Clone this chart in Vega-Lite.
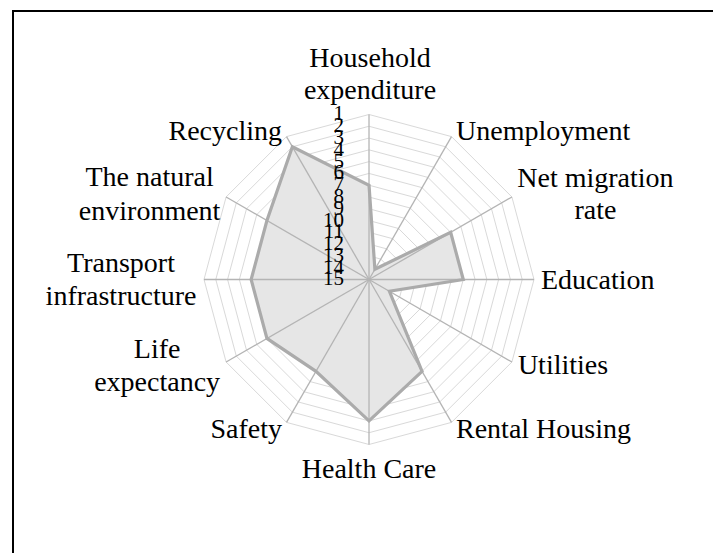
{
  "$schema": "https://vega.github.io/schema/vega-lite/v6.json",
  "width": 713,
  "height": 553,
  "autosize": {"type": "none"},
  "padding": 0,
  "background": "white",
  "view": {"stroke": null},
  "config": {"text": {"font": "Liberation Serif", "color": "#000000"}},
  "datasets": {
    "scores": [
      {"i": 0, "label": "Household\nexpenditure", "rank": 7},
      {"i": 1, "label": "Unemployment", "rank": 14},
      {"i": 2, "label": "Net migration\nrate", "rank": 7},
      {"i": 3, "label": "Education", "rank": 7},
      {"i": 4, "label": "Utilities", "rank": 13},
      {"i": 5, "label": "Rental Housing", "rank": 6},
      {"i": 6, "label": "Health Care", "rank": 3},
      {"i": 7, "label": "Safety", "rank": 6},
      {"i": 8, "label": "Life\nexpectancy", "rank": 5},
      {"i": 9, "label": "Transport\ninfrastructure", "rank": 5},
      {"i": 10, "label": "The natural\nenvironment", "rank": 5},
      {"i": 11, "label": "Recycling", "rank": 2}
    ],
    "levels": [
      {"level": 1, "spokes": [0,1,2,3,4,5,6,7,8,9,10,11]},
      {"level": 2, "spokes": [0,1,2,3,4,5,6,7,8,9,10,11]},
      {"level": 3, "spokes": [0,1,2,3,4,5,6,7,8,9,10,11]},
      {"level": 4, "spokes": [0,1,2,3,4,5,6,7,8,9,10,11]},
      {"level": 5, "spokes": [0,1,2,3,4,5,6,7,8,9,10,11]},
      {"level": 6, "spokes": [0,1,2,3,4,5,6,7,8,9,10,11]},
      {"level": 7, "spokes": [0,1,2,3,4,5,6,7,8,9,10,11]},
      {"level": 8, "spokes": [0,1,2,3,4,5,6,7,8,9,10,11]},
      {"level": 9, "spokes": [0,1,2,3,4,5,6,7,8,9,10,11]},
      {"level": 10, "spokes": [0,1,2,3,4,5,6,7,8,9,10,11]},
      {"level": 11, "spokes": [0,1,2,3,4,5,6,7,8,9,10,11]},
      {"level": 12, "spokes": [0,1,2,3,4,5,6,7,8,9,10,11]},
      {"level": 13, "spokes": [0,1,2,3,4,5,6,7,8,9,10,11]},
      {"level": 14, "spokes": [0,1,2,3,4,5,6,7,8,9,10,11]},
      {"level": 15, "spokes": [0,1,2,3,4,5,6,7,8,9,10,11]}
    ]
  },
  "layer": [
    {
      "data": {"name": "levels"},
      "transform": [
        {"filter": "datum.level < 15"},
        {"flatten": ["spokes"], "as": ["s"]},
        {"calculate": "(15 - datum.level) / 14", "as": "r"},
        {"calculate": "datum.r * sin(datum.s * PI / 6)", "as": "gx"},
        {"calculate": "datum.r * cos(datum.s * PI / 6)", "as": "gy"}
      ],
      "mark": {"type": "line", "interpolate": "linear-closed", "stroke": "#d9d9d9", "strokeWidth": 1},
      "encoding": {
        "x": {"field": "gx", "type": "quantitative", "axis": null, "scale": {"domain": [-2.2364, 2.0848], "nice": false, "zero": false}},
        "y": {"field": "gy", "type": "quantitative", "axis": null, "scale": {"domain": [-1.6576, 1.6939], "nice": false, "zero": false}},
        "detail": {"field": "level", "type": "nominal"},
        "order": {"field": "s", "type": "quantitative"}
      }
    },
    {
      "data": {"name": "scores"},
      "transform": [
        {"calculate": "(15 - datum.rank) / 14", "as": "r"},
        {"calculate": "datum.r * sin(datum.i * PI / 6)", "as": "px"},
        {"calculate": "datum.r * cos(datum.i * PI / 6)", "as": "py"}
      ],
      "mark": {"type": "line", "interpolate": "linear-closed", "fill": "#e6e6e6", "strokeOpacity": 0},
      "encoding": {
        "x": {"field": "px", "type": "quantitative", "axis": null, "scale": {"domain": [-2.2364, 2.0848], "nice": false, "zero": false}},
        "y": {"field": "py", "type": "quantitative", "axis": null, "scale": {"domain": [-1.6576, 1.6939], "nice": false, "zero": false}},
        "order": {"field": "i", "type": "quantitative"}
      }
    },
    {
      "data": {"name": "scores"},
      "transform": [
        {"calculate": "sin(datum.i * PI / 6)", "as": "vx"},
        {"calculate": "cos(datum.i * PI / 6)", "as": "vy"},
        {"calculate": "0", "as": "ox"}
      ],
      "mark": {"type": "rule", "stroke": "#b4b4b4", "strokeWidth": 1.3},
      "encoding": {
        "x": {"field": "vx", "type": "quantitative", "axis": null, "scale": {"domain": [-2.2364, 2.0848], "nice": false, "zero": false}},
        "y": {"field": "vy", "type": "quantitative", "axis": null, "scale": {"domain": [-1.6576, 1.6939], "nice": false, "zero": false}},
        "x2": {"field": "ox"},
        "y2": {"field": "ox"}
      }
    },
    {
      "data": {"name": "scores"},
      "transform": [
        {"calculate": "(15 - datum.rank) / 14", "as": "r"},
        {"calculate": "datum.r * sin(datum.i * PI / 6)", "as": "px"},
        {"calculate": "datum.r * cos(datum.i * PI / 6)", "as": "py"}
      ],
      "mark": {"type": "line", "interpolate": "linear-closed", "stroke": "#ababab", "strokeWidth": 3.2, "strokeJoin": "miter"},
      "encoding": {
        "x": {"field": "px", "type": "quantitative", "axis": null, "scale": {"domain": [-2.2364, 2.0848], "nice": false, "zero": false}},
        "y": {"field": "py", "type": "quantitative", "axis": null, "scale": {"domain": [-1.6576, 1.6939], "nice": false, "zero": false}},
        "order": {"field": "i", "type": "quantitative"}
      }
    },
    {
      "data": {"name": "levels"},
      "transform": [
        {"calculate": "(15 - datum.level) / 14", "as": "r"},
        {"calculate": "0", "as": "ox"}
      ],
      "mark": {"type": "text", "align": "right", "baseline": "middle", "dx": -25, "fontSize": 21},
      "encoding": {
        "x": {"field": "ox", "type": "quantitative", "axis": null, "scale": {"domain": [-2.2364, 2.0848], "nice": false, "zero": false}},
        "y": {"field": "r", "type": "quantitative", "axis": null, "scale": {"domain": [-1.6576, 1.6939], "nice": false, "zero": false}},
        "text": {"field": "level", "type": "nominal"}
      }
    },
    {
      "data": {"name": "scores"},
      "transform": [
        {"calculate": "sin(datum.i * PI / 6)", "as": "vx"},
        {"calculate": "cos(datum.i * PI / 6)", "as": "vy"}
      ],
      "layer": [
        {"transform": [{"filter": "datum.i === 0"}], "mark": {"type": "text", "align": "center", "baseline": "middle", "lineBreak": "\n", "fontSize": 28, "lineHeight": 32, "dx": 1, "dy": -55}},
        {"transform": [{"filter": "datum.i === 1"}], "mark": {"type": "text", "align": "left", "baseline": "middle", "lineBreak": "\n", "fontSize": 28, "lineHeight": 32, "dx": 4.5, "dy": -5}},
        {"transform": [{"filter": "datum.i === 2"}], "mark": {"type": "text", "align": "center", "baseline": "middle", "lineBreak": "\n", "fontSize": 28, "lineHeight": 32, "dx": 83.5, "dy": -18}},
        {"transform": [{"filter": "datum.i === 3"}], "mark": {"type": "text", "align": "left", "baseline": "middle", "lineBreak": "\n", "fontSize": 28, "lineHeight": 32, "dx": 7, "dy": 1.5}},
        {"transform": [{"filter": "datum.i === 4"}], "mark": {"type": "text", "align": "left", "baseline": "middle", "lineBreak": "\n", "fontSize": 28, "lineHeight": 32, "dx": 6, "dy": 4}},
        {"transform": [{"filter": "datum.i === 5"}], "mark": {"type": "text", "align": "left", "baseline": "middle", "lineBreak": "\n", "fontSize": 28, "lineHeight": 32, "dx": 4.5, "dy": 7.5}},
        {"transform": [{"filter": "datum.i === 6"}], "mark": {"type": "text", "align": "center", "baseline": "middle", "lineBreak": "\n", "fontSize": 28, "lineHeight": 32, "dx": 0, "dy": 26}},
        {"transform": [{"filter": "datum.i === 7"}], "mark": {"type": "text", "align": "right", "baseline": "middle", "lineBreak": "\n", "fontSize": 28, "lineHeight": 32, "dx": -4.5, "dy": 7.5}},
        {"transform": [{"filter": "datum.i === 8"}], "mark": {"type": "text", "align": "center", "baseline": "middle", "lineBreak": "\n", "fontSize": 28, "lineHeight": 33, "dx": -69, "dy": -12}},
        {"transform": [{"filter": "datum.i === 9"}], "mark": {"type": "text", "align": "center", "baseline": "middle", "lineBreak": "\n", "fontSize": 28, "lineHeight": 33, "dx": -83, "dy": -15}},
        {"transform": [{"filter": "datum.i === 10"}], "mark": {"type": "text", "align": "center", "baseline": "middle", "lineBreak": "\n", "fontSize": 28, "lineHeight": 34, "dx": -76.5, "dy": -19}},
        {"transform": [{"filter": "datum.i === 11"}], "mark": {"type": "text", "align": "right", "baseline": "middle", "lineBreak": "\n", "fontSize": 28, "lineHeight": 32, "dx": -4.5, "dy": -5}}
      ],
      "encoding": {
        "x": {"field": "vx", "type": "quantitative", "axis": null, "scale": {"domain": [-2.2364, 2.0848], "nice": false, "zero": false}},
        "y": {"field": "vy", "type": "quantitative", "axis": null, "scale": {"domain": [-1.6576, 1.6939], "nice": false, "zero": false}},
        "text": {"field": "label", "type": "nominal"}
      }
    },
    {
      "data": {"values": [{"edge": "frame"}]},
      "transform": [
        {"calculate": "-2.1576", "as": "fx1"},
        {"calculate": "2.3", "as": "fx2"},
        {"calculate": "1.6272", "as": "fy1"},
        {"calculate": "-1.9", "as": "fy2"}
      ],
      "mark": {"type": "rect", "fill": null, "stroke": "#000000", "strokeWidth": 2},
      "encoding": {
        "x": {"field": "fx1", "type": "quantitative", "axis": null, "scale": {"domain": [-2.2364, 2.0848], "nice": false, "zero": false}},
        "x2": {"field": "fx2"},
        "y": {"field": "fy1", "type": "quantitative", "axis": null, "scale": {"domain": [-1.6576, 1.6939], "nice": false, "zero": false}},
        "y2": {"field": "fy2"}
      }
    }
  ]
}
